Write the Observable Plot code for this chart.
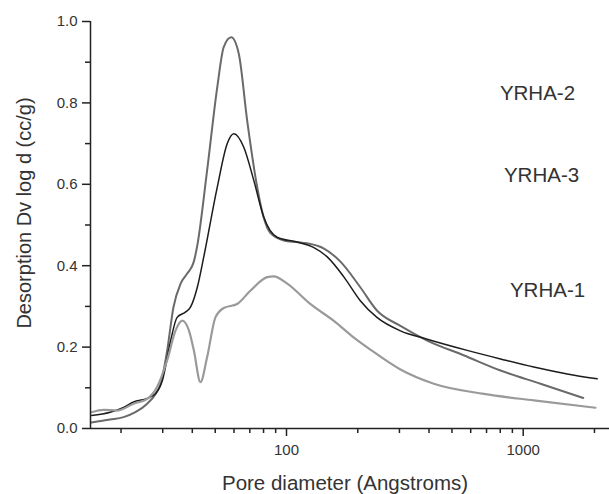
<!DOCTYPE html>
<html>
<head>
<meta charset="utf-8">
<script src="https://cdn.jsdelivr.net/npm/d3@7"></script>
<script src="https://cdn.jsdelivr.net/npm/@observablehq/plot@0.6"></script>
<style>
  html, body { margin: 0; padding: 0; background: #fff; }
  #chart { width: 609px; height: 494px; }
</style>
</head>
<body>
<div id="chart"></div>
<script>
// ---- data ----
const yrha2D = [15, 18, 20.5, 23, 25.8, 28, 29.4, 31.3, 33.3, 35.7, 38, 40.6, 42, 46.2, 51, 54.3, 58.4, 62.9, 68.2, 75.2, 80, 85.6, 97.4, 110, 122, 144, 169, 205, 241, 303, 393, 560, 802, 1183, 1793];
const yrha2V = [0.015, 0.022, 0.028, 0.04, 0.061, 0.085, 0.11, 0.19, 0.298, 0.356, 0.38, 0.41, 0.45, 0.634, 0.839, 0.937, 0.961, 0.92, 0.757, 0.593, 0.52, 0.48, 0.462, 0.458, 0.455, 0.442, 0.41, 0.347, 0.29, 0.252, 0.216, 0.18, 0.1425, 0.11, 0.075];

const yrha3D = [15, 18, 20.5, 22.6, 25.8, 28, 29.9, 32.4, 34.5, 37.4, 39.3, 42, 44.7, 51, 56.2, 59.9, 66, 72.8, 80.2, 91.3, 111, 130, 149, 175, 205, 241, 303, 390, 580, 802, 1108, 1535, 2053];
const yrha3V = [0.032, 0.04, 0.052, 0.065, 0.074, 0.086, 0.118, 0.216, 0.273, 0.286, 0.298, 0.347, 0.421, 0.593, 0.7, 0.724, 0.691, 0.609, 0.519, 0.47, 0.458, 0.445, 0.421, 0.372, 0.314, 0.273, 0.24, 0.22, 0.192, 0.171, 0.151, 0.134, 0.122];

const yrha1D = [15, 16.9, 19.3, 22.6, 25.8, 28.4, 31.3, 34, 36.3, 38.7, 40.6, 43.3, 46.2, 50.1, 54.3, 61.9, 70.5, 82.9, 88.4, 100.7, 126, 158, 192, 226, 303, 419, 682, 1108, 2020];
const yrha1V = [0.04, 0.046, 0.044, 0.061, 0.073, 0.102, 0.167, 0.241, 0.265, 0.241, 0.192, 0.114, 0.175, 0.273, 0.296, 0.306, 0.339, 0.372, 0.374, 0.356, 0.306, 0.265, 0.224, 0.194, 0.145, 0.11, 0.085, 0.069, 0.051];

const seriesNames = ["YRHA-2", "YRHA-3", "YRHA-1"];
const seriesColors = ["#6a6a6a", "#1c1c1c", "#9a9a9a"];
const seriesWidths = [2, 1.5, 2.2];

const labelD = [1149, 1195, 1267];
const labelV = [0.823, 0.622, 0.339];

const xDomain = [14.86, 2315];
const xMajorTicks = [100, 1000];
const xMinorTicks = [20, 30, 40, 50, 60, 70, 80, 90, 200, 300, 400, 500, 600, 700, 800, 900, 2000];
const yMajorTicks = [0, 0.2, 0.4, 0.6, 0.8, 1.0];
const yMinorTicks = [0.1, 0.3, 0.5, 0.7, 0.9];

const xTitle = "Pore diameter (Angstroms)";
const yTitle = "Desorption Dv log d (cc/g)";

// ---- build tables ----
const toRows = (name, D, V) => D.map((d, i) => ({series: name, d, v: V[i]}));
const seriesRows = [
  toRows("YRHA-2", yrha2D, yrha2V),
  toRows("YRHA-3", yrha3D, yrha3V),
  toRows("YRHA-1", yrha1D, yrha1V)
];

const font = "'Liberation Sans', Arial, Helvetica, sans-serif";
const axisColor = "#222";
const textColor = "#333";

const marks = [];
seriesRows.forEach((rows, i) => {
  marks.push(Plot.line(rows, {
    x: "d", y: "v", curve: "monotone-x",
    stroke: seriesColors[i], strokeWidth: seriesWidths[i]
  }));
});

marks.push(
  Plot.ruleY([0], {stroke: axisColor, strokeWidth: 1.5}),
  Plot.ruleX([xDomain[0]], {stroke: axisColor, strokeWidth: 1.5}),
  Plot.axisX({ticks: xMajorTicks, tickSize: 8, tickPadding: 8, tickFormat: d => String(d),
    label: null, fontSize: 15, color: textColor, stroke: axisColor, strokeWidth: 1.5}),
  Plot.axisX({ticks: xMinorTicks, tickSize: 5, text: null, label: null, stroke: axisColor, strokeWidth: 1.5}),
  Plot.axisY({ticks: yMajorTicks, tickSize: 8, tickPadding: 5, tickFormat: d3.format(".1f"),
    label: null, fontSize: 15, color: textColor, stroke: axisColor, strokeWidth: 1.5}),
  Plot.axisY({ticks: yMinorTicks, tickSize: 5, text: null, label: null, stroke: axisColor, strokeWidth: 1.5}),
  Plot.text([xTitle], {frameAnchor: "bottom", textAnchor: "middle", dx: -5, dy: 61, fontSize: 20.5, fill: textColor}),
  Plot.text([yTitle], {frameAnchor: "left", textAnchor: "middle", rotate: -90, dx: -66, dy: -12, fontSize: 20, fill: textColor}),
  Plot.text(seriesNames, {x: (d, i) => labelD[i], y: (d, i) => labelV[i], text: d => d, fontSize: 20.5, fill: textColor})
);

const chart = Plot.plot({
  width: 609,
  height: 494,
  marginLeft: 90,
  marginRight: 0,
  marginTop: 21,
  marginBottom: 66,
  style: {fontFamily: font, background: "#fff", overflow: "visible"},
  x: {type: "log", domain: xDomain},
  y: {domain: [0, 1]},
  marks
});
document.getElementById("chart").appendChild(chart);
</script>
</body>
</html>
